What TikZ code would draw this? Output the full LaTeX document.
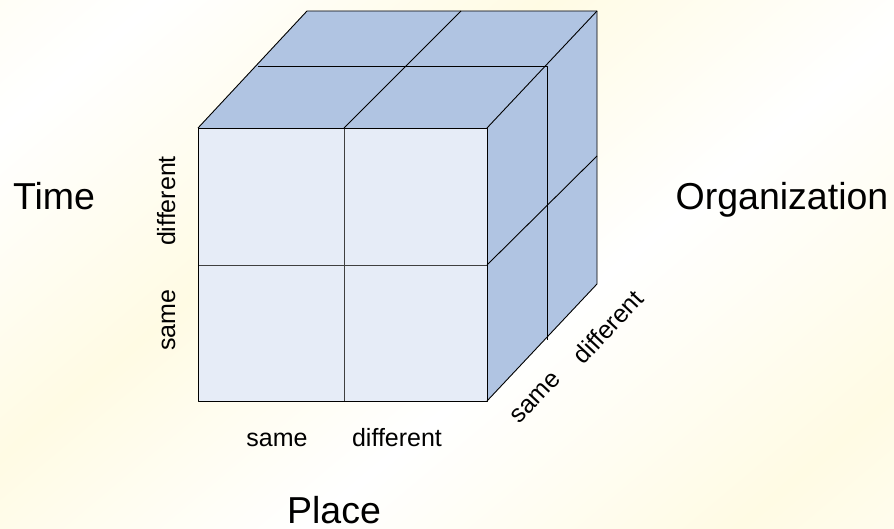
\documentclass[tikz,border=0pt]{standalone}
\usepackage{fontspec}
\setmainfont{Liberation Sans}
\usepackage{xcolor}
\usepackage{tikz}
\usetikzlibrary{positioning}

\definecolor{frontblue}{RGB}{230,236,247}
\definecolor{sideblue}{RGB}{176,196,226}
\definecolor{cream}{RGB}{255,251,228}

\pgfdeclarehorizontalshading{bgwave}{100bp}{color(0bp)=(cream); color(22bp)=(white); color(40bp)=(cream); color(58bp)=(white); color(78bp)=(cream); color(100bp)=(white)}

\begin{document}
\begin{tikzpicture}[x=1pt, y=-1pt, line join=round,
  face/.style={draw=black, line width=0.9pt},
  grid/.style={draw=black!75, line width=0.7pt},
  big/.style={font=\fontsize{37.5}{44}\selectfont, inner sep=0pt},
  lbl/.style={font=\fontsize{25}{30}\selectfont, inner sep=0pt}]
% background
\shade[shading=bgwave, shading angle=-50] (0,0) rectangle (894,529);
\useasboundingbox (0,0) rectangle (894,529);

% corners of the cube
\coordinate (fa) at (198,128); \coordinate (fb) at (487,128);
\coordinate (fc) at (487,401); \coordinate (fd) at (198,401);
\coordinate (ba) at (307,11);  \coordinate (bb) at (597,11);
\coordinate (bc) at (597,284);

% faces
\fill[sideblue] (fa) -- (ba) -- (bb) -- (bc) -- (fc) -- (fb) -- cycle;
\fill[frontblue] (fa) rectangle (fc);

% inner lines
\draw[grid] (344,128) -- (344,401);
\draw[grid] (198,265) -- (487,265);
\draw[face] (344,128) -- (461,11);
\draw[face] (258,66) -- (547,66) -- (547,340);
\draw[face] (487,265) -- (597,156);

% outlines
\draw[face] (fa) rectangle (fc);
\draw[face] (fa) -- (ba) -- (bb) -- (bc) -- (fc);
\draw[face] (fb) -- (bb);

% axis titles
\node[big, anchor=base] (time) at (54,210) {Time};
\node[big, anchor=base] (org) at (782,210) {Organization};
\node[big, anchor=base] (place) at (334,523) {Place};

% value labels
\node[lbl, anchor=base] (psame) at (277,446) {same};
\node[lbl, anchor=base] (pdiff) at (397,446) {different};
\node[lbl, anchor=base, rotate=90] (tdiff) at (175,201) {different};
\node[lbl, anchor=base, rotate=90] (tsame) at (175,320) {same};
\node[lbl, rotate=47] (osame) at (536,398) {same};
\node[lbl, rotate=47] (odiff) at (608,327) {different};
\end{tikzpicture}
\end{document}
